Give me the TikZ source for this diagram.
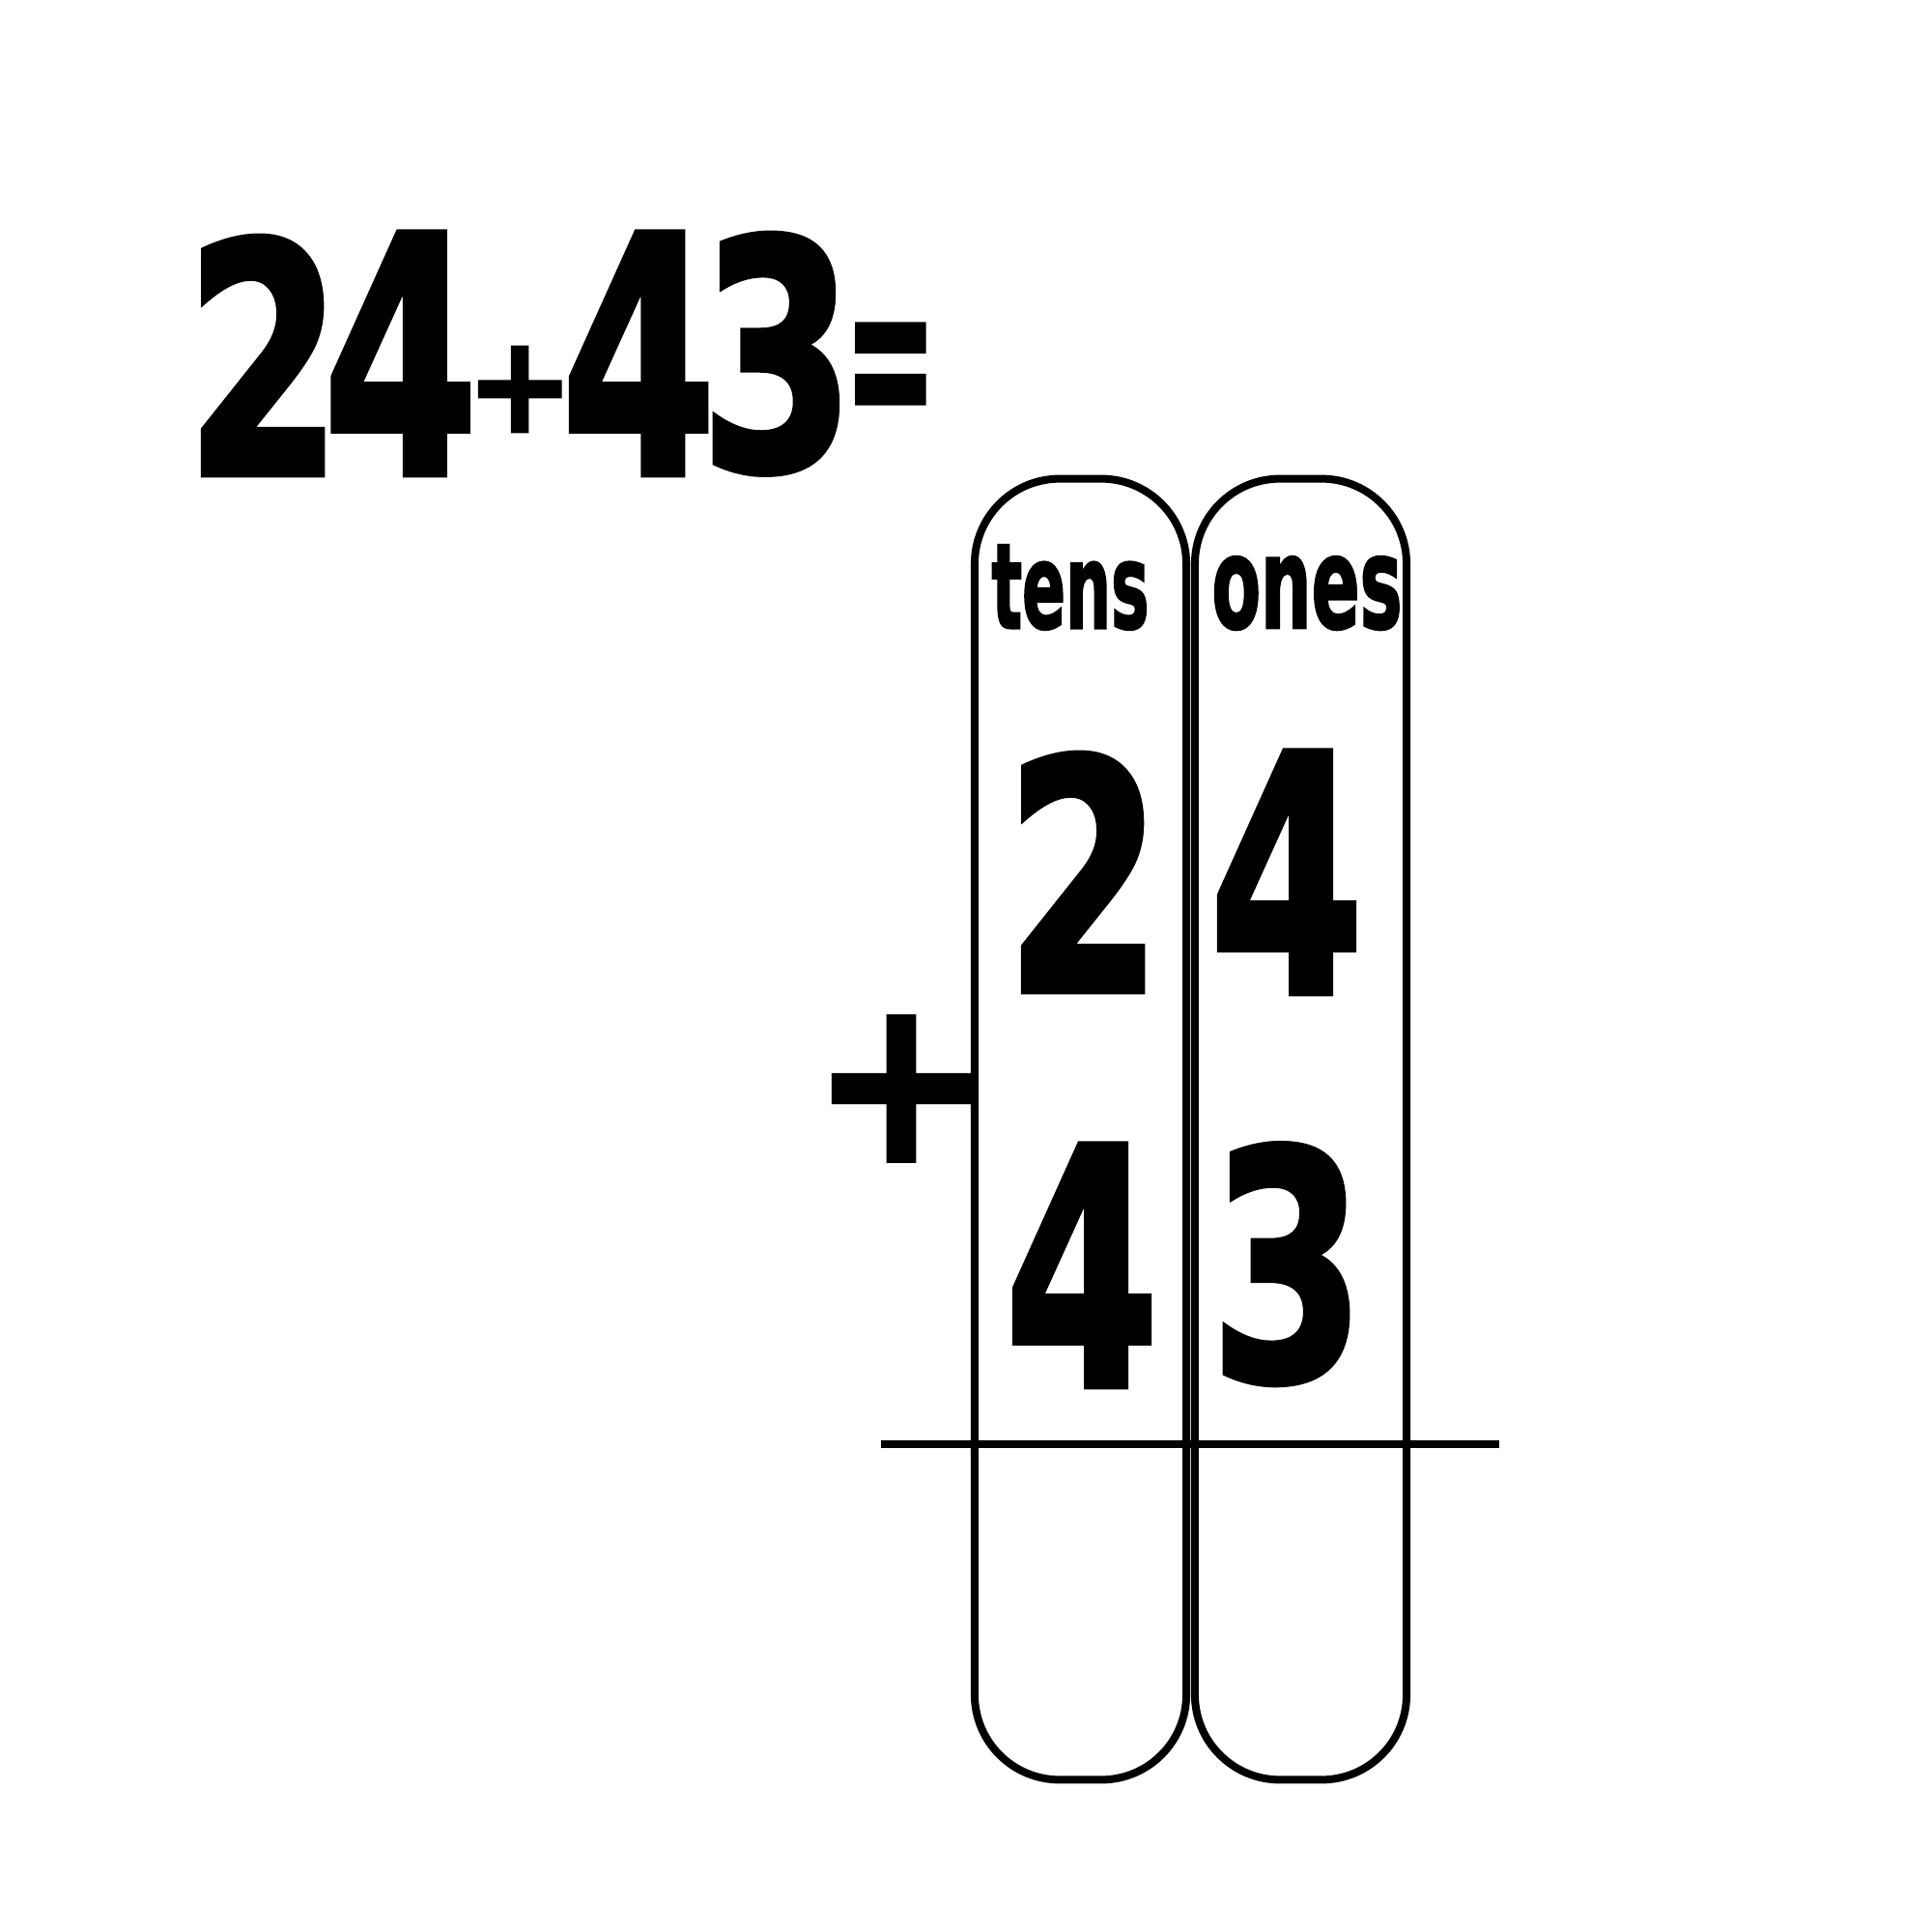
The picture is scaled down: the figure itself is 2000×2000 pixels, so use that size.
\documentclass[tikz,border=0pt]{standalone}
\usepackage{fontspec}
\usepackage{graphicx}
\newfontfamily\heavy[FakeBold=2]{DejaVu Sans Condensed Bold}
% #1 slot width, #2 scaled box width, #3 height (cm), #4 text
\newcommand\gl[4]{\makebox[#1cm][c]{\resizebox{#2cm}{#3cm}{\heavy #4}}}
\tikzset{
  glyph/.style={inner sep=0pt, outer sep=0pt, anchor=south},
  column/.style={draw, line width=0.08cm, rounded corners=0.88cm, inner sep=0pt,
    minimum width=2.19cm, minimum height=13.46cm},
  rule/.style={line width=0.08cm},
}
\begin{document}
\begin{tikzpicture}[x=0.01cm, y=-0.01cm]
\useasboundingbox (0,0) rectangle (2000,2000);
% equation, one line of text
\node[glyph, anchor=base west] (eq) at (208,491) {%
  \gl{1.30}{1.62}{2.46}{2}\hspace{0.08cm}%
  \gl{1.37}{1.60}{2.50}{4}\hspace{0.09cm}%
  \raisebox{0.44cm}{\gl{0.92}{1.12}{0.88}{+}}\hspace{0.08cm}%
  \gl{1.38}{1.60}{2.50}{4}\hspace{0.09cm}%
  \raisebox{0.05cm}{\gl{1.31}{1.60}{2.44}{3}}\hspace{0.15cm}%
  \raisebox{0.39cm}{\gl{0.73}{0.95}{1.16}{=}}};
% columns
\node[column] (tens) at (1118.5,1169) {};
\node[column] (ones) at (1346.5,1169) {};
\node[glyph] (tl) at (1108,652) {\gl{1.53}{1.63}{0.86}{tens}};
\node[glyph] (ol) at (1353,652) {\gl{1.85}{1.97}{0.74}{ones}};
\node[glyph] (a1) at (1122,1026) {\gl{1.28}{1.62}{2.46}{2}};
\node[glyph] (a2) at (1332,1028) {\gl{1.34}{1.60}{2.50}{4}};
\node[glyph] (b1) at (1120,1435) {\gl{1.34}{1.60}{2.50}{4}};
\node[glyph] (b2) at (1333,1433) {\gl{1.28}{1.60}{2.44}{3}};
\node[glyph, anchor=center] (pl) at (933,1127) {\gl{1.42}{1.86}{1.49}{+}};
% rule
\coordinate (rl) at (912,1495);
\coordinate (rr) at (1552,1495);
\draw[rule] (rl) -- (rr);
\end{tikzpicture}
\end{document}
